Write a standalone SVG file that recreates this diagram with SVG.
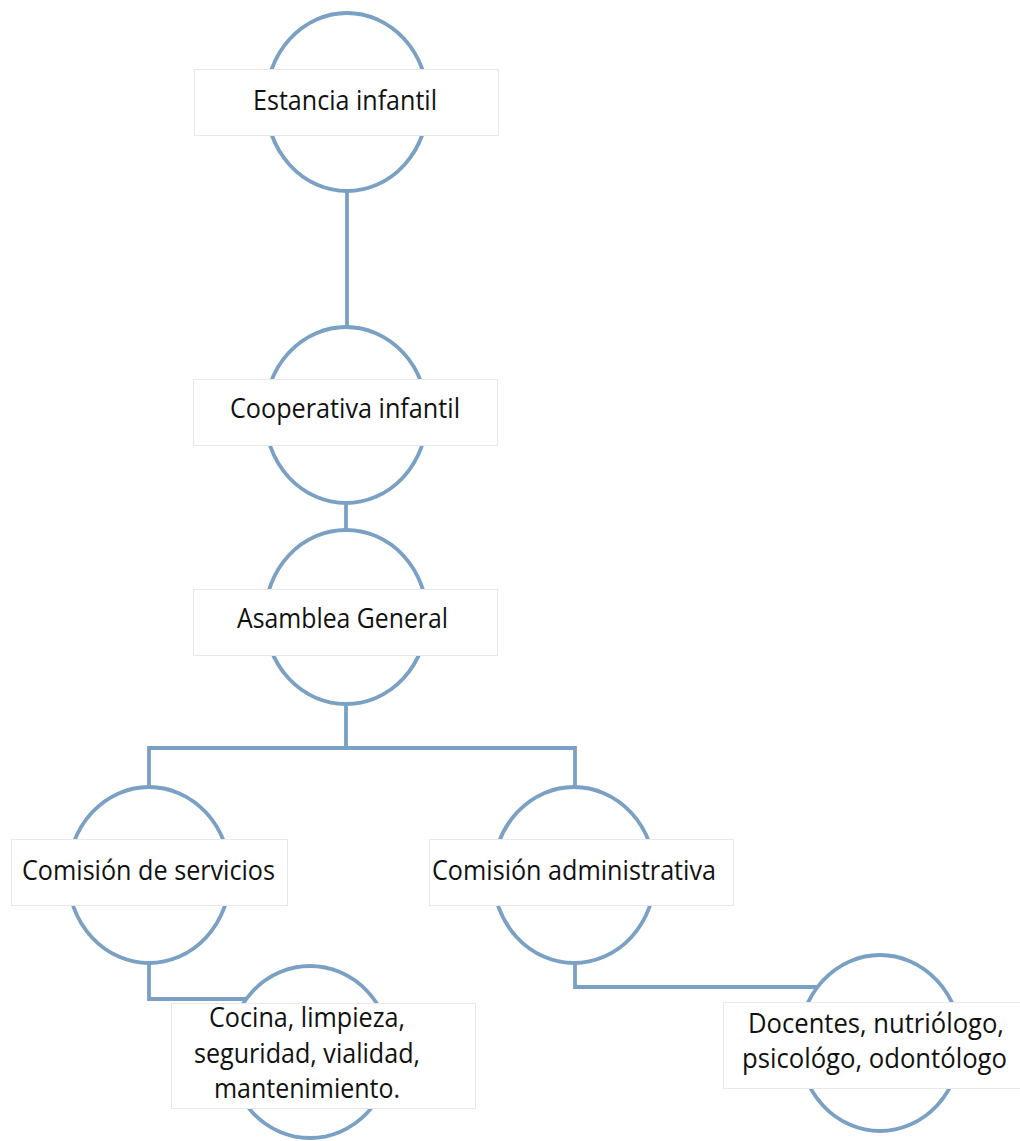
<svg xmlns="http://www.w3.org/2000/svg" width="1020" height="1141" viewBox="0 0 1020 1141">
<style>
.ring{fill:#ffffff;stroke:#7aa0c4;stroke-width:3.8}
.box{fill:#ffffff;stroke:#e8e8e8;stroke-width:1}
.lbl{font-family:"Open Sans","Noto Sans","Liberation Sans",sans-serif;font-size:27px;fill:#111111;text-anchor:middle}
.conn{fill:none;stroke:#7aa0c4;stroke-width:3.8}
</style>
<rect width="1020" height="1141" fill="#ffffff"/>
<g id="connectors">
<path class="conn" d="M347 191 V327"/>
<path class="conn" d="M346 503 V531"/>
<path class="conn" d="M346 703 V748 M149 748 H575 M149 746 V788 M575 746 V788"/>
<path class="conn" d="M149 963 V999 H246"/>
<path class="conn" d="M575 963 V987 H818"/>
</g>
<g id="n1">
<ellipse class="ring" cx="347" cy="102" rx="81" ry="89"/>
<rect class="box" x="194.5" y="69.5" width="304" height="66"/>
<text class="lbl" x="345" y="110" textLength="184" lengthAdjust="spacingAndGlyphs">Estancia infantil</text>
</g>
<g id="n2">
<ellipse class="ring" cx="346" cy="415" rx="81" ry="88"/>
<rect class="box" x="193.5" y="379.5" width="304" height="66"/>
<text class="lbl" x="345" y="418" textLength="230" lengthAdjust="spacingAndGlyphs">Cooperativa infantil</text>
</g>
<g id="n3">
<ellipse class="ring" cx="346" cy="617" rx="81" ry="87"/>
<rect class="box" x="193.5" y="589.5" width="304" height="66"/>
<text class="lbl" x="342.5" y="628" textLength="211" lengthAdjust="spacingAndGlyphs">Asamblea General</text>
</g>
<g id="n4">
<ellipse class="ring" cx="149" cy="875" rx="81" ry="88"/>
<rect class="box" x="11.5" y="839.5" width="276" height="66"/>
<text class="lbl" x="148.5" y="880" textLength="253" lengthAdjust="spacingAndGlyphs">Comisión de servicios</text>
</g>
<g id="n5">
<ellipse class="ring" cx="574" cy="875" rx="81" ry="88"/>
<rect class="box" x="429.5" y="839.5" width="304" height="66"/>
<text class="lbl" x="574" y="880" textLength="284" lengthAdjust="spacingAndGlyphs">Comisión administrativa</text>
</g>
<g id="n6">
<ellipse class="ring" cx="310" cy="1052" rx="81" ry="86"/>
<rect class="box" x="171.5" y="1003.5" width="304" height="105"/>
<text class="lbl" x="307" y="1027" textLength="196" lengthAdjust="spacingAndGlyphs">Cocina, limpieza,</text>
<text class="lbl" x="307" y="1063" textLength="226" lengthAdjust="spacingAndGlyphs">seguridad, vialidad,</text>
<text class="lbl" x="307" y="1098" textLength="186" lengthAdjust="spacingAndGlyphs">mantenimiento.</text>
</g>
<g id="n7">
<ellipse class="ring" cx="880" cy="1043" rx="81" ry="88"/>
<rect class="box" x="723.5" y="1002.5" width="300" height="86"/>
<text class="lbl" x="876" y="1033" textLength="256" lengthAdjust="spacingAndGlyphs">Docentes, nutriólogo,</text>
<text class="lbl" x="874.5" y="1068" textLength="265" lengthAdjust="spacingAndGlyphs">psicológo, odontólogo</text>
</g>
</svg>
